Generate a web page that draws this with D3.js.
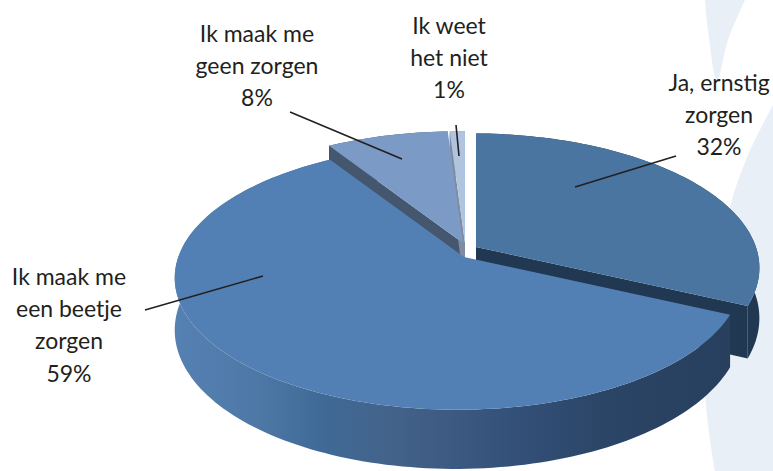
<!DOCTYPE html>
<html>
<head>
<meta charset="utf-8">
<script src="https://cdn.jsdelivr.net/npm/d3@7"></script>
<style>
    html, body { margin: 0; padding: 0; background: #fff; }
    svg { display: block; }
    text { font-family: Lato, "Open Sans", sans-serif; font-size: 23px; fill: #231f20; }
</style>
</head>
<body>
<script>
//Chart data, clockwise from the top of the pie
const categories = ["Ja, ernstig zorgen", "Ik maak me een beetje zorgen", "Ik maak me geen zorgen", "Ik weet het niet"];
const values = [32, 59, 8, 1];
const labelLines = [
    ["Ja, ernstig", "zorgen", "32%"],
    ["Ik maak me", "een beetje", "zorgen", "59%"],
    ["Ik maak me", "geen zorgen", "8%"],
    ["Ik weet", "het niet", "1%"]
];

function main() {
    const width = 773, height = 471;

    // every slice is pulled out of the pie a bit, so each has its own apex
    const apex = [[476, 247], [464, 257], [463, 243], [465, 243]];
    const radius = [1.02, 1, 1, 1];
    const topColor = ["#4a75a1", "#5380b4", "#7b9ac6", "#b0c4e0"];
    const wallColor = ["#213852", "url(#frontWall)", "#45566f", "#7f8c9f"];

    // where the label block and the leader line of each slice go
    const labelPos = [
        {x: 719, y: 91, line: [[575, 187], [676, 156]]},
        {x: 69, y: 285, line: [[263, 276], [145, 310]]},
        {x: 257, y: 42, line: [[402, 159], [290, 112]]},
        {x: 449, y: 34, line: [[459, 156], [456, 125]]}
    ];

    const rx = 280, ry = 129, depth = 50;

    const svg = d3.select("body").append("svg")
        .attr("width", width)
        .attr("height", height);

    // pale background swooshes on the right
    const swoosh = d3.line().curve(d3.curveCatmullRom);
    svg.append("path")
        .attr("d", swoosh([[705, 0], [708, 30], [717, 80], [728, 40], [745, 0]]) + "Z")
        .attr("fill", "#e9eff7");
    svg.append("path")
        .attr("d", swoosh([[773, 105], [748, 155], [730, 207], [712, 300], [705, 390], [715, 471]]) + "L773,471Z")
        .attr("fill", "#e9eff7");

    // gradient of the big front wall
    const grad = svg.append("defs").append("linearGradient")
        .attr("id", "frontWall")
        .attr("gradientUnits", "userSpaceOnUse")
        .attr("x1", 172).attr("x2", 730).attr("y1", 0).attr("y2", 0);
    [[0, "#5581b3"], [0.15, "#4e78a6"], [0.27, "#3f6a96"], [0.4, "#43628a"], [0.6, "#34517a"], [0.78, "#2b4566"], [1, "#283f5e"]]
        .forEach(function (s) {
            grad.append("stop").attr("offset", s[0]).attr("stop-color", s[1]);
        });

    const arcs = d3.pie().sort(null).startAngle(0).endAngle(2 * Math.PI)(values);

    // perspective: the disc gets smaller to the back and a little to the right
    function project(i, a) {
        let u = Math.sin(a) * radius[i], v = Math.cos(a) * radius[i];
        let s = 1 / (1 + 0.155 * v + 0.02 * u);
        return [apex[i][0] + rx * u * s, apex[i][1] - ry * v * s, s];
    }

    function arcPoints(i, a0, a1) {
        let n = Math.max(2, Math.ceil((a1 - a0) * 40));
        return d3.range(n + 1).map(function (k) {
            return project(i, a0 + (a1 - a0) * k / n);
        });
    }

    function drop(p) {
        return [p[0], p[1] + depth * (p[2] === undefined ? 1 : p[2])];
    }

    const line = d3.line();

    function topPath(i) {
        return line([apex[i]].concat(arcPoints(i, arcs[i].startAngle, arcs[i].endAngle))) + "Z";
    }

    function outerWall(i) {
        let pts = arcPoints(i, arcs[i].startAngle, arcs[i].endAngle);
        return line(pts.concat(pts.slice().reverse().map(drop))) + "Z";
    }

    function cutWall(i, a) {
        let p = project(i, a);
        return line([apex[i], p, drop(p), drop(apex[i])]) + "Z";
    }

    // painter's order: back slices first, the big slice last
    const order = [2, 3, 0, 1];
    const g = svg.append("g");

    order.forEach(function (i) {
        let color = wallColor[i];
        if (i !== 1) {
            g.append("path").attr("d", outerWall(i)).attr("fill", color);
            // cut face that looks to the viewer
            let a = i === 0 ? arcs[i].endAngle : arcs[i].startAngle;
            g.append("path").attr("d", cutWall(i, a)).attr("fill", color);
        }
    });

    g.append("path").attr("d", outerWall(1)).attr("fill", wallColor[1]);

    order.forEach(function (i) {
        g.append("path").attr("d", topPath(i)).attr("fill", topColor[i]);
    });

    // leader lines
    svg.selectAll(".leader")
        .data(labelPos)
        .enter().append("path")
        .attr("class", "leader")
        .attr("d", function (d) { return line(d.line); })
        .attr("stroke", "#231f20")
        .attr("stroke-width", 1.6)
        .attr("fill", "none");

    // labels
    labelLines.forEach(function (lines, i) {
        svg.append("text")
            .attr("text-anchor", "middle")
            .attr("aria-label", categories[i])
            .selectAll("tspan")
            .data(lines)
            .enter().append("tspan")
            .attr("x", labelPos[i].x)
            .attr("y", function (d, k) { return labelPos[i].y + k * 32.2; })
            .text(function (d) { return d; });
    });
}

main();
</script>
</body>
</html>
